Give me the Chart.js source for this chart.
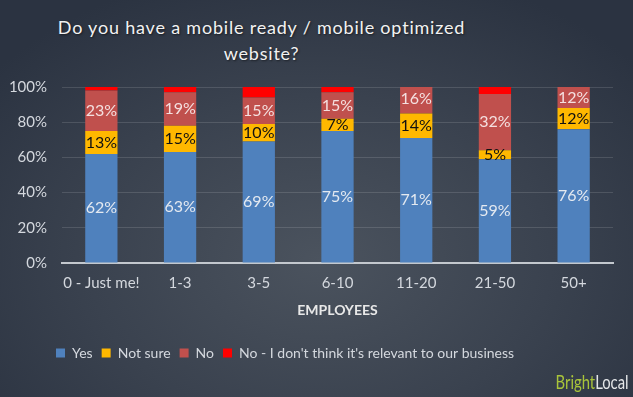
<!DOCTYPE html>
<html lang="en">
<head>
    <meta charset="UTF-8">
    <title>Mobile ready website by employees</title>
    <script src="https://cdn.jsdelivr.net/npm/chart.js"></script>
    <style>
        html, body {
            margin: 0;
            padding: 0;
        }
        body {
            width: 633px;
            height: 397px;
            overflow: hidden;
            position: relative;
            background: radial-gradient(ellipse 420px 300px at 320px 260px, #4b535e 0%, #3a424f 55%, #2b3341 100%);
        }
        .title {
            position: absolute;
            left: 0;
            top: 14px;
            width: 523px;
            text-align: center;
            color: #f2f2f2;
            font-family: Lato, sans-serif;
            font-size: 18px;
            line-height: 26px;
            letter-spacing: 0.8px;
            text-shadow: 1px 1px 2px rgba(0, 0, 0, 0.5);
        }
        .logo {
            position: absolute;
            right: 4px;
            top: 370px;
            font-family: Lato, sans-serif;
            font-size: 19px;
            color: #e4e6e8;
            transform: scaleX(0.78);
            transform-origin: right center;
        }
        .logo span {
            color: #a9c43a;
        }
        #chart {
            position: absolute;
            left: 0;
            top: 0;
        }
    </style>
</head>
<body>
    <div class="title">Do you have a mobile ready / mobile optimized<br>website?</div>
    <canvas id="chart" width="633" height="397"></canvas>
    <div class="logo"><span>Bright</span>Local</div>

    <script>
        // values (percent)
        const categories = ['0 - Just me!', '1-3', '3-5', '6-10', '11-20', '21-50', '50+'];
        const yes = [62, 63, 69, 75, 71, 59, 76];
        const notSure = [13, 15, 10, 7, 14, 5, 12];
        const no = [23, 19, 15, 15, 16, 32, 12];
        const notRelevant = [2, 3, 6, 3, 0, 4, 0];
        const yTicks = [0, 20, 40, 60, 80, 100];

        const seriesNames = ['Yes', 'Not sure', 'No', "No - I don't think it's relevant to our business"];
        const seriesColors = ['#4f81bd', '#ffb800', '#c0504d', '#ff0000'];
        const labelColors = ['#e4e9f0', '#111111', '#f4e0e0', null];

        const textFont = 'Lato, sans-serif';
        const tickColor = '#d4d8de';

        // percentage text inside each segment
        const segmentLabels = {
            id: 'segmentLabels',
            afterDatasetsDraw(chart) {
                const ctx = chart.ctx;
                ctx.save();
                ctx.font = '16px ' + textFont;
                ctx.textAlign = 'center';
                ctx.textBaseline = 'middle';
                chart.data.datasets.forEach((ds, i) => {
                    if (!labelColors[i]) return;
                    const meta = chart.getDatasetMeta(i);
                    meta.data.forEach((bar, j) => {
                        const v = ds.data[j];
                        if (!v) return;
                        ctx.fillStyle = labelColors[i];
                        ctx.fillText(v + '%', bar.x, (bar.y + bar.base) / 2);
                    });
                });
                ctx.restore();
            }
        };

        // the legend in the picture sits left of centre
        const legendShift = {
            id: 'legendShift',
            afterLayout(chart) {
                if (chart.legend) {
                    chart.legend.left = 47;
                }
            }
        };

        const datasets = [yes, notSure, no, notRelevant].map((values, i) => ({
            label: seriesNames[i],
            data: values,
            backgroundColor: seriesColors[i],
            borderWidth: 0,
            barPercentage: 0.41,
            categoryPercentage: 1
        }));

        new Chart(document.getElementById('chart'), {
            type: 'bar',
            data: {
                labels: categories,
                datasets: datasets
            },
            options: {
                responsive: false,
                animation: false,
                layout: {
                    padding: { top: 87, right: 20, bottom: 27, left: 0 }
                },
                scales: {
                    x: {
                        stacked: true,
                        grid: { display: false, drawTicks: false },
                        border: { display: true, color: '#c3c8ce', width: 2 },
                        ticks: {
                            color: tickColor,
                            font: { family: textFont, size: 15 },
                            padding: 11,
                            maxRotation: 0,
                            autoSkip: false
                        },
                        title: {
                            display: true,
                            text: 'EMPLOYEES',
                            color: '#e8e8e8',
                            font: { family: textFont, size: 14, weight: 'bold' },
                            padding: { top: 4, bottom: 18 }
                        },
                        afterFit(scale) {
                            scale.height = 74;
                        }
                    },
                    y: {
                        stacked: true,
                        min: 0,
                        max: 100,
                        afterBuildTicks(scale) {
                            scale.ticks = yTicks.map(v => ({ value: v }));
                        },
                        grid: {
                            color: 'rgba(255, 255, 255, 0.13)',
                            drawTicks: false
                        },
                        border: { display: false },
                        ticks: {
                            color: tickColor,
                            font: { family: textFont, size: 15 },
                            padding: 15,
                            callback: v => v + '%'
                        },
                        afterFit(scale) {
                            scale.width = 62;
                        }
                    }
                },
                plugins: {
                    legend: {
                        position: 'bottom',
                        align: 'start',
                        labels: {
                            color: tickColor,
                            font: { family: textFont, size: 14 },
                            boxWidth: 9,
                            boxHeight: 9,
                            padding: 9
                        }
                    },
                    tooltip: { enabled: false }
                }
            },
            plugins: [segmentLabels, legendShift]
        });
    </script>
</body>
</html>
